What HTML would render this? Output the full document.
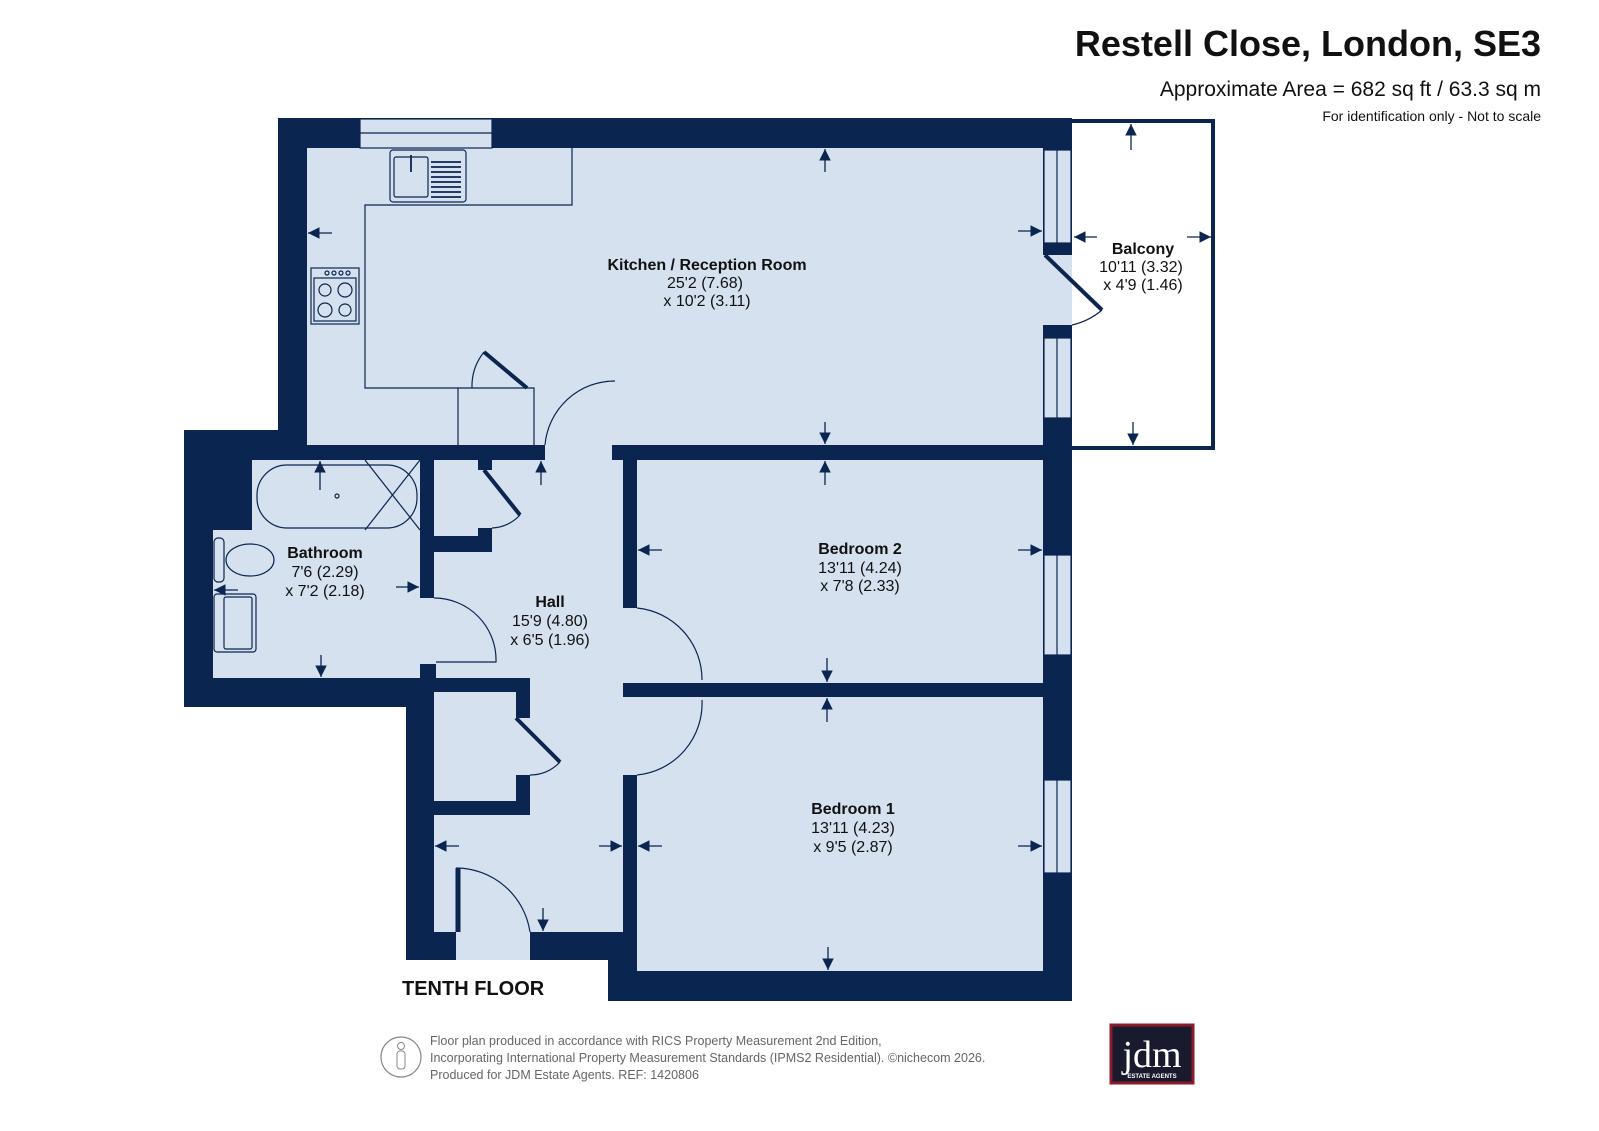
<!DOCTYPE html>
<html><head><meta charset="utf-8"><style>
html,body{margin:0;padding:0;background:#fff;}
svg{display:block;font-family:"Liberation Sans",Arial,sans-serif;}
</style></head><body>
<svg width="1599" height="1131" viewBox="0 0 1599 1131" xmlns="http://www.w3.org/2000/svg">
<defs>
<marker id="ah" viewBox="0 0 10 10" refX="10" refY="5" markerWidth="9" markerHeight="9" orient="auto"><path d="M0,0 L10,5 L0,10 z" fill="#0b2551"/></marker>
</defs>
<rect width="1599" height="1131" fill="#fff"/>
<text x="1541" y="56" text-anchor="end" font-size="36" font-weight="bold" fill="#111">Restell Close, London, SE3</text>
<text x="1541" y="96" text-anchor="end" font-size="21" fill="#111">Approximate Area = 682 sq ft / 63.3 sq m</text>
<text x="1541" y="121" text-anchor="end" font-size="14" fill="#111">For identification only - Not to scale</text>

<rect x="1070" y="121" width="143" height="327" fill="#fff" stroke="#0b2551" stroke-width="4"/>

<path d="M278,118 L1072,118 L1072,1001 L608,1001 L608,960 L406,960 L406,707 L184,707 L184,430 L278,430 Z" fill="#0b2551"/>

<g fill="#d5e1ee">
<rect x="307" y="148" width="736" height="297"/>
<rect x="545" y="440" width="70" height="22"/>
<rect x="252" y="460" width="168" height="72"/>
<rect x="213" y="530" width="207" height="148"/>
<rect x="418" y="598" width="18" height="66"/>
<rect x="434" y="460" width="189" height="472"/>
<rect x="456" y="930" width="74" height="30"/>
<rect x="637" y="460" width="406" height="223"/>
<rect x="637" y="697" width="406" height="274"/>
<rect x="621" y="608" width="18" height="75"/>
<rect x="621" y="697" width="18" height="78"/>
<rect x="1043" y="255" width="29" height="70"/>
</g>
<g fill="#d5e1ee" stroke="#0b2551" stroke-width="1.2">
<rect x="360" y="119" width="132" height="29"/>
<rect x="1044" y="150" width="27" height="93"/>
<rect x="1044" y="338" width="27" height="80"/>
<rect x="1044" y="555" width="27" height="100"/>
<rect x="1044" y="780" width="27" height="93"/>
</g>

<g fill="#0b2551">
<rect x="434" y="536" width="58" height="16"/>
<rect x="478" y="528" width="14" height="10"/>
<rect x="478" y="460" width="14" height="10"/>
<rect x="434" y="678" width="96" height="14"/>
<rect x="516" y="690" width="14" height="28"/>
<rect x="516" y="775" width="14" height="30"/>
<rect x="434" y="801" width="96" height="14"/>
<rect x="623" y="683" width="80" height="14"/>
<rect x="420" y="664" width="16" height="16"/>
<rect x="1043" y="243" width="29" height="12"/>
<rect x="1043" y="325" width="29" height="13"/>
<rect x="612" y="445" width="25" height="15"/>
</g>

<g stroke="#0b2551" stroke-width="1.2" fill="none">
<line x1="360" y1="133" x2="492" y2="133"/>
<line x1="1057" y1="150" x2="1057" y2="243"/>
<line x1="1057" y1="338" x2="1057" y2="418"/>
<line x1="1057" y1="555" x2="1057" y2="655"/>
<line x1="1057" y1="780" x2="1057" y2="873"/>
<polyline points="572,148 572,205 365,205 365,388 534,388 534,445"/>
<line x1="458" y1="388" x2="458" y2="445"/>
<rect x="390" y="150" width="76" height="52" rx="3"/>
<rect x="394" y="157" width="34" height="40" rx="2"/>
<rect x="311" y="268" width="48" height="56"/>
<rect x="314" y="278" width="42" height="43"/>
<circle cx="325" cy="290" r="6"/><circle cx="345" cy="290" r="7"/>
<circle cx="325" cy="310" r="7"/><circle cx="345" cy="310" r="6"/>
<circle cx="327" cy="273" r="2"/><circle cx="334" cy="273" r="2"/><circle cx="341" cy="273" r="2"/><circle cx="348" cy="273" r="2"/>
<rect x="257" y="465" width="160" height="63" rx="30"/>
<line x1="365" y1="460" x2="420" y2="530"/>
<line x1="365" y1="530" x2="420" y2="460"/>
<circle cx="337" cy="496" r="2"/>
<rect x="214" y="538" width="10" height="44" rx="4"/>
<ellipse cx="250" cy="560" rx="24" ry="16"/>
<rect x="214" y="594" width="42" height="58" rx="3"/>
<rect x="224" y="597" width="28" height="52" rx="2"/>
<path d="M472,388 A55,55 0 0 1 484,352"/>
<path d="M545,445 A70,70 0 0 1 615,381"/>
<path d="M492,528 A40,40 0 0 0 520,515"/>
<path d="M434,598 A62,62 0 0 1 496,662 L436,662"/>
<path d="M637,608 A72,72 0 0 1 702,680"/>
<path d="M637,775 A72,72 0 0 0 702,700"/>
<path d="M530,775 A40,40 0 0 0 560,762"/>
<path d="M456,868 A75,75 0 0 1 530,932"/>
<path d="M1072,325 A70,70 0 0 0 1102,310"/>
</g>
<g stroke="#0b2551" stroke-width="4" fill="none">
<line x1="484" y1="352" x2="527" y2="388"/>
<line x1="484" y1="470" x2="520" y2="515"/>
<line x1="516" y1="718" x2="560" y2="762"/>
<line x1="1045" y1="255" x2="1102" y2="310"/>
<line x1="458" y1="868" x2="458" y2="932" stroke-width="5"/>
</g>
<g stroke="#0b2551" stroke-width="1.8">
<line x1="431" y1="162" x2="461" y2="162"/><line x1="431" y1="167" x2="461" y2="167"/><line x1="431" y1="172" x2="461" y2="172"/><line x1="431" y1="177" x2="461" y2="177"/><line x1="431" y1="182" x2="461" y2="182"/><line x1="431" y1="187" x2="461" y2="187"/><line x1="431" y1="192" x2="461" y2="192"/><line x1="431" y1="197" x2="461" y2="197"/>
<line x1="411" y1="155" x2="411" y2="172"/>
</g>

<g stroke="#0b2551" stroke-width="1.3" marker-end="url(#ah)">
<line x1="825" y1="172" x2="825" y2="149"/>
<line x1="332" y1="233" x2="308" y2="233"/>
<line x1="1018" y1="231" x2="1042" y2="231"/>
<line x1="825" y1="422" x2="825" y2="444"/>
<line x1="1131" y1="150" x2="1131" y2="124"/>
<line x1="1097" y1="237" x2="1074" y2="237"/>
<line x1="1187" y1="237" x2="1211" y2="237"/>
<line x1="1133" y1="422" x2="1133" y2="445"/>
<line x1="825" y1="485" x2="825" y2="461"/>
<line x1="662" y1="550" x2="638" y2="550"/>
<line x1="1018" y1="550" x2="1042" y2="550"/>
<line x1="827" y1="658" x2="827" y2="682"/>
<line x1="827" y1="722" x2="827" y2="698"/>
<line x1="662" y1="846" x2="638" y2="846"/>
<line x1="1018" y1="846" x2="1042" y2="846"/>
<line x1="828" y1="947" x2="828" y2="970"/>
<line x1="541" y1="485" x2="541" y2="461"/>
<line x1="320" y1="490" x2="320" y2="461"/>
<line x1="238" y1="590" x2="214" y2="590"/>
<line x1="396" y1="587" x2="419" y2="587"/>
<line x1="321" y1="655" x2="321" y2="677"/>
<line x1="459" y1="846" x2="435" y2="846"/>
<line x1="599" y1="846" x2="622" y2="846"/>
<line x1="543" y1="908" x2="543" y2="931"/>
</g>

<g font-size="16" fill="#111" text-anchor="middle">
<text x="707" y="270" font-weight="bold">Kitchen / Reception Room</text>
<text x="705" y="288">25'2 (7.68)</text>
<text x="707" y="306">x 10'2 (3.11)</text>
<text x="1143" y="254" font-weight="bold">Balcony</text>
<text x="1141" y="272">10'11 (3.32)</text>
<text x="1143" y="290">x 4'9 (1.46)</text>
<text x="325" y="558" font-weight="bold">Bathroom</text>
<text x="325" y="577">7'6 (2.29)</text>
<text x="325" y="596">x 7'2 (2.18)</text>
<text x="550" y="607" font-weight="bold">Hall</text>
<text x="550" y="626">15'9 (4.80)</text>
<text x="550" y="645">x 6'5 (1.96)</text>
<text x="860" y="554" font-weight="bold">Bedroom 2</text>
<text x="860" y="573">13'11 (4.24)</text>
<text x="860" y="591">x 7'8 (2.33)</text>
<text x="853" y="814" font-weight="bold">Bedroom 1</text>
<text x="853" y="833">13'11 (4.23)</text>
<text x="853" y="852">x 9'5 (2.87)</text>
</g>
<text x="402" y="995" font-size="20" font-weight="bold" fill="#111">TENTH FLOOR</text>

<circle cx="401" cy="1057" r="20" fill="none" stroke="#888" stroke-width="1.2"/>
<circle cx="401" cy="1046" r="3.5" fill="none" stroke="#888"/>
<rect x="397" y="1051" width="8" height="18" rx="3" fill="none" stroke="#888"/>
<g font-size="12.5" fill="#666">
<text x="430" y="1045">Floor plan produced in accordance with RICS Property Measurement 2nd Edition,</text>
<text x="430" y="1062">Incorporating International Property Measurement Standards (IPMS2 Residential).   ©nichecom 2026.</text>
<text x="430" y="1079">Produced for JDM Estate Agents.   REF: 1420806</text>
</g>
<rect x="1111" y="1025" width="82" height="58" fill="#1a1a2e" stroke="#8b1a2a" stroke-width="3"/>
<text x="1152" y="1067" text-anchor="middle" font-family="Liberation Serif,serif" font-size="38" fill="#fff">jdm</text>
<text x="1152" y="1078" text-anchor="middle" font-size="6" fill="#fff" font-weight="bold">ESTATE AGENTS</text>
</svg>
</body></html>
